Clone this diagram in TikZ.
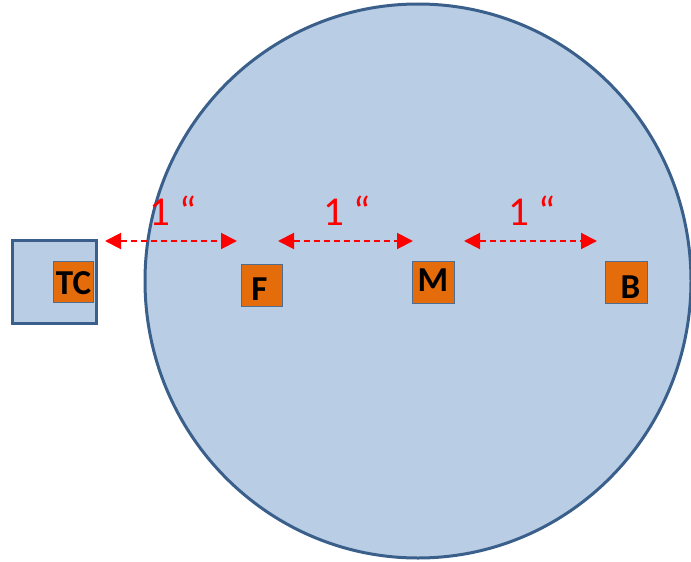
\documentclass[tikz,border=0pt]{standalone}
\usepackage{fontspec}
\setmainfont{Carlito}
\usetikzlibrary{arrows.meta,shapes.geometric}
\definecolor{diskfill}{HTML}{B9CDE5}
\definecolor{diskline}{HTML}{3A5F8B}
\definecolor{boxfill}{HTML}{E46C0A}
\definecolor{boxline}{HTML}{4F6D8F}
\definecolor{dimred}{HTML}{FF0000}
\tikzset{
  sensor/.style={draw=boxline, line width=1pt, fill=boxfill, minimum width=41pt, minimum height=41pt, inner sep=0pt},
  lettr/.style={inner sep=0pt, font=\fontsize{35}{35}\selectfont\bfseries, text=black},
  dimarrow/.style={draw=dimred, line width=2pt, dash pattern=on 6pt off 4pt, {Triangle[length=16pt,width=16pt]}-{Triangle[length=16pt,width=16pt]}},
  dimlabel/.style={inner sep=0pt, font=\fontsize{41}{41}\selectfont, text=dimred, anchor=base}
}
\begin{document}
\begin{tikzpicture}[x=1pt,y=-1pt]
\useasboundingbox (0,0) rectangle (691,562);
% disk
\node[draw=diskline, line width=3pt, fill=diskfill, ellipse, minimum width=546pt, minimum height=554pt, inner sep=0pt] (disk) at (418,281) {};
% TC holder
\node[draw=diskline, line width=3pt, fill=diskfill, minimum width=84pt, minimum height=83pt, inner sep=0pt] (holder) at (54,281.5) {};
% sensor boxes
\node[sensor, minimum width=40pt] (tc) at (73,281.5) {};
\node[sensor, minimum height=42pt] (f) at (262,285) {};
\node[sensor, minimum width=42pt, minimum height=42pt] (m) at (433,282) {};
\node[sensor, minimum width=42pt, minimum height=42pt] (b) at (626,282) {};
% letters
\node[lettr] (tct) at (73.5,283.5) {TC};
\node[lettr] (ft) at (259.5,289.5) {F};
\node[lettr] (mt) at (433,280.5) {M};
\node[lettr] (bt) at (630.5,287) {B};
% dimension arrows
\coordinate (a1l) at (105,241);
\coordinate (a1r) at (237,241);
\coordinate (a2l) at (278,241);
\coordinate (a2r) at (413,241);
\coordinate (a3l) at (464,241);
\coordinate (a3r) at (597,241);
\draw[dimarrow] (a1l) -- (a1r);
\draw[dimarrow] (a2l) -- (a2r);
\draw[dimarrow] (a3l) -- (a3r);
% labels
\node[dimlabel] (l1) at (173,225) {1 “};
\node[dimlabel] (l2) at (347,225) {1 “};
\node[dimlabel] (l3) at (532,225) {1 “};
\end{tikzpicture}
\end{document}
